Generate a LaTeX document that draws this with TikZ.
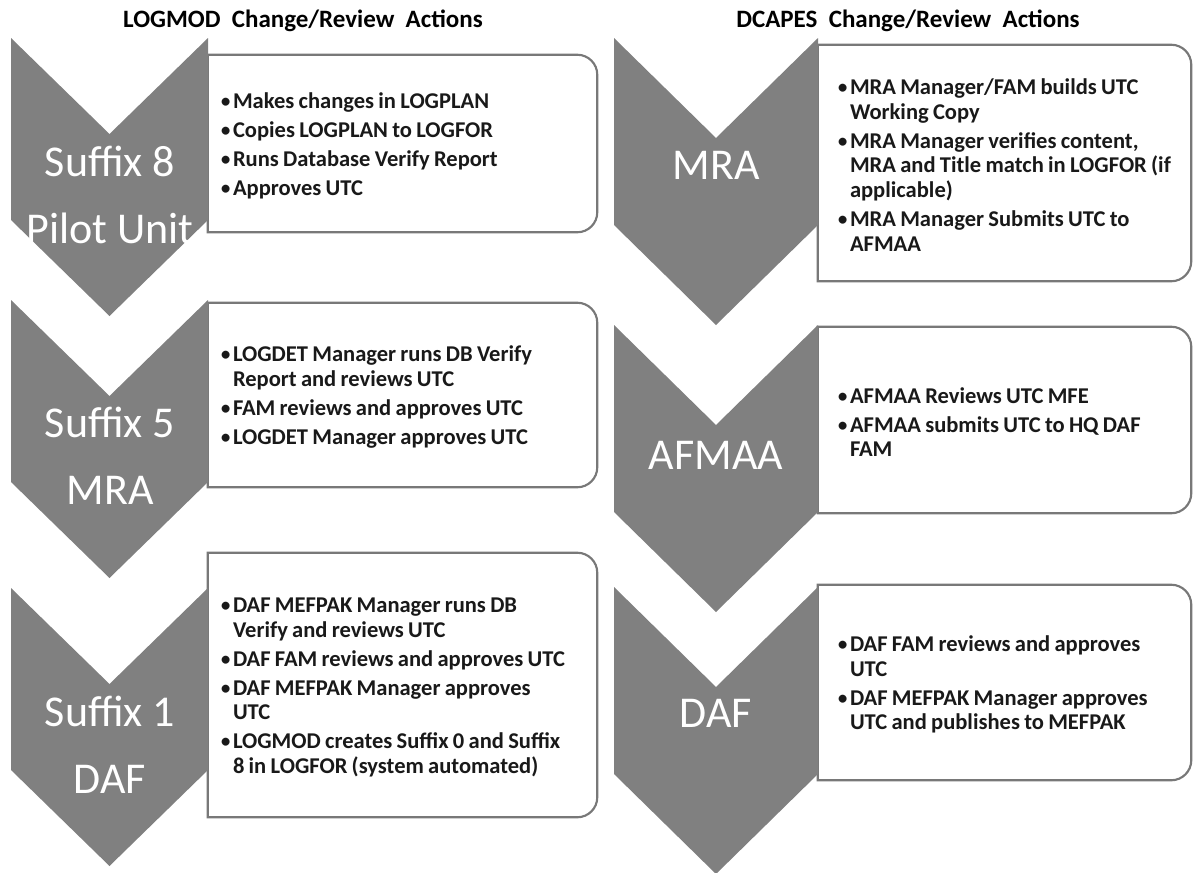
\documentclass[tikz,border=0pt]{standalone}
\usepackage{fontspec}
\setmainfont{Carlito}
\usetikzlibrary{positioning}
\definecolor{chevgray}{RGB}{128,128,128}
\definecolor{edgegray}{RGB}{120,120,120}
\newdimen\pix \pix=0.75pt
\newcommand\itm{\par\hangindent=13\pix\hangafter=1\noindent\makebox[13\pix][l]{\mdseries\textbullet}}

\begin{document}
\begin{tikzpicture}[x=0.75pt,y=-0.75pt]
\tikzset{
  panel/.style={inner sep=0pt},
  edge/.style={draw=edgegray,line width=1.6pt,fill=white},
  chev/.style={fill=chevgray},
  lbl/.style={text=white,font=\fontsize{33pt}{50pt}\selectfont,align=center},
  txt/.style={font=\fontsize{16.9pt}{18.4pt}\selectfont\bfseries,align=left,inner sep=0pt,text=black!90,yshift=3.5pt,
    text width=385*0.75pt,execute at begin node={\setlength\parskip{3.4pt}\spaceskip=0.19em plus 0.1em minus 0.03em}},
  hd/.style={font=\fontsize{18.75pt}{20pt}\selectfont\bfseries}
}
\useasboundingbox (0,0) rectangle (1193,872);
% headings
\node[hd] (hdl) at (303,21) {LOGMOD~ Change/Review~ Actions};
\node[hd] (hdr) at (908,21) {DCAPES~ Change/Review~ Actions};
% panels
\node[panel,minimum width=389*0.75pt,minimum height=177*0.75pt] (bl1) at (402.5,143.5) {};
\node[panel,minimum width=389*0.75pt,minimum height=184*0.75pt] (bl2) at (402.5,395) {};
\node[panel,minimum width=389*0.75pt,minimum height=264*0.75pt] (bl3) at (402.5,685) {};
\node[panel,minimum width=373*0.75pt,minimum height=236*0.75pt] (br1) at (1004.5,163) {};
\node[panel,minimum width=373*0.75pt,minimum height=186*0.75pt] (br2) at (1004.5,420) {};
\node[panel,minimum width=373*0.75pt,minimum height=195*0.75pt] (br3) at (1004.5,682.5) {};
\foreach \p in {bl1,bl2,bl3,br1,br2,br3}
  \draw[edge] (\p.south west) -- (\p.north west) -- ([xshift=-15pt]\p.north east)
    arc[start angle=90,end angle=0,radius=15pt] -- ([yshift=15pt]\p.south east)
    arc[start angle=0,end angle=-90,radius=15pt] -- cycle;
% panel texts
\node[txt,right=9pt of bl1.west] (xl1) {\itm Makes changes in LOGPLAN
  \itm Copies LOGPLAN to LOGFOR
  \itm Runs Database Verify Report
  \itm Approves UTC\par};
\node[txt,right=9pt of bl2.west] (xl2) {\itm LOGDET Manager runs DB Verify\newline Report and reviews UTC
  \itm FAM reviews and approves UTC
  \itm LOGDET Manager approves UTC\par};
\node[txt,right=9pt of bl3.west] (xl3) {\itm DAF MEFPAK Manager runs DB\newline Verify and reviews UTC
  \itm DAF FAM reviews and approves UTC
  \itm DAF MEFPAK Manager approves\newline UTC
  \itm LOGMOD creates Suffix 0 and Suffix\newline 8 in LOGFOR (system automated)\par};
\node[txt,right=14.25pt of br1.west] (xr1) {\itm MRA Manager/FAM builds UTC\newline Working Copy
  \itm MRA Manager verifies content,\newline MRA and Title match in LOGFOR (if\newline applicable)
  \itm MRA Manager Submits UTC to\newline AFMAA\par};
\node[txt,right=14.25pt of br2.west] (xr2) {\itm AFMAA Reviews UTC MFE
  \itm AFMAA submits UTC to HQ DAF\newline FAM\par};
\node[txt,right=14.25pt of br3.west] (xr3) {\itm DAF FAM reviews and approves\newline UTC
  \itm DAF MEFPAK Manager approves\newline UTC and publishes to MEFPAK\par};
% chevrons
\foreach \x/\y/\w/\d/\h in {11/38/197/96/278,11/300/197/96/278,11/588/197/96/278,
    614/38/204/100/287,614/325/204/100/287,614/587/204/100/287}
  \fill[chev] (\x,\y) -- ++(\w/2,\d) -- ++(\w/2,-\d) -- ++(0,\h-\d) -- ++(-\w/2,\d) -- ++(-\w/2,-\d) -- cycle;
\node[lbl] (cl1) at (110,195) {Suffix 8\\Pilot Unit};
\node[lbl] (cl2) at (110,456) {Suffix 5\\MRA};
\node[lbl] (cl3) at (110,745) {Suffix 1\\DAF};
\node[lbl] (cr1) at (716,165) {MRA};
\node[lbl] (cr2) at (716,455) {AFMAA};
\node[lbl] (cr3) at (716,713) {DAF};
\end{tikzpicture}
\end{document}
